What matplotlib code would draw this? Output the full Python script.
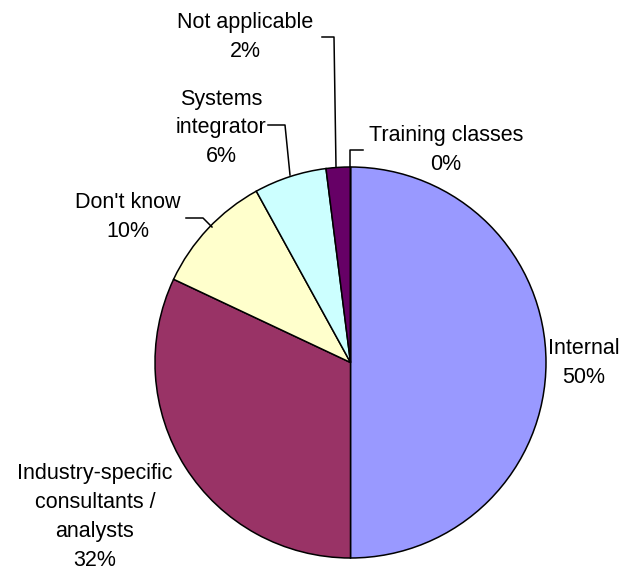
import matplotlib
matplotlib.use('Agg')
import matplotlib.pyplot as plt

W, H = 622, 571

# pie data, clockwise from 12 o'clock
categories = ['Internal', 'Industry-specific\nconsultants /\nanalysts', "Don't know",
              'Systems\nintegrator', 'Not applicable', 'Training classes']
shares = [50, 32, 10, 6, 2, 0]
colors = ['#9999FF', '#993366', '#FFFFCC', '#CCFFFF', '#660066', '#FF8080']

plt.rcParams['font.family'] = ['Liberation Sans', 'DejaVu Sans']

fig = plt.figure(figsize=(W / 100, H / 100), dpi=100)
ax = fig.add_axes([0, 0, 1, 1])

# y axis runs downward, so counterclockwise in data reads clockwise on screen
ax.pie(shares, colors=colors, center=(350.5, 362.5), radius=195.5,
       startangle=-90, counterclock=True,
       wedgeprops=dict(edgecolor='black', linewidth=1.1))
ax.set_xlim(0, W)
ax.set_ylim(H, 0)
ax.set_aspect('equal')
ax.axis('off')

# label centres and leader lines, in pixels
label_pos = [(584, 363), (95, 517), (128, 217), (221, 128), (245, 37), (446, 150)]
leaders = [None, None,
           [(186, 218), (203, 218), (212, 227)],
           [(268, 125), (285, 125), (290, 175)],
           [(322, 37), (334, 37), (336, 167)],
           [(363, 150), (350, 150), (350, 167)]]

for name, val, (x, y), lead in zip(categories, shares, label_pos, leaders):
    ax.text(x, y, f'{name}\n{val}%', ha='center', va='center', fontsize=15.5,
            linespacing=1.5, color='black')
    if lead:
        xs, ys = zip(*lead)
        ax.plot(xs, ys, color='black', linewidth=1.1)

fig.savefig('out.png', dpi=100)
